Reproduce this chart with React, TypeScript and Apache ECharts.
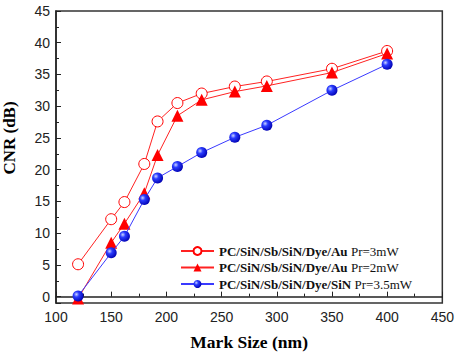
import React, { useEffect, useRef } from "react";
import * as echarts from "echarts";

const markSizes = [120, 150, 162, 180, 192, 210, 232, 262, 291, 350, 400];
const au3mW = [5.1, 12.2, 14.9, 20.9, 27.6, 30.5, 32.0, 33.1, 33.9, 35.9, 38.7];
const au2mW = [-0.3, 8.5, 11.5, 16.3, 22.3, 28.5, 31.0, 32.3, 33.2, 35.3, 38.3];
const sin35mW = [0.1, 6.9, 9.5, 15.3, 18.7, 20.5, 22.7, 25.1, 27.0, 32.5, 36.6];
const seriesNames = [
  "PC/SiN/Sb/SiN/Dye/Au|Pr=3mW",
  "PC/SiN/Sb/SiN/Dye/Au|Pr=2mW",
  "PC/SiN/Sb/SiN/Dye/SiN|Pr=3.5mW",
];
const yTitle = "CNR (dB)";
const xTitle = "Mark Size (nm)";

const pairs = (ys: number[]) => markSizes.map((x, i) => [x, ys[i]]);

export default function App() {
  const ref = useRef<HTMLDivElement>(null);
  useEffect(() => {
    if (!ref.current) return;
    const chart = echarts.init(ref.current, undefined, { renderer: "svg" });
    const axisColor = "#222";
    const tickFont = { fontFamily: "Liberation Sans", fontSize: 14, color: "#222" };
    const sphere = new echarts.graphic.RadialGradient(0.35, 0.35, 0.7, [
      { offset: 0, color: "#ccd6ff" },
      { offset: 0.35, color: "#2a3cff" },
      { offset: 1, color: "#0000b0" },
    ]);
    chart.setOption({
      animation: false,
      backgroundColor: "#fff",
      grid: {
        left: 56,
        right: 13,
        top: 11,
        bottom: 55,
        show: true,
        borderColor: "#333",
        borderWidth: 1.5,
        containLabel: false,
      },
      graphic: [
        {
          type: "text",
          x: 9,
          y: 138,
          rotation: Math.PI / 2,
          style: {
            text: yTitle,
            fontFamily: "Liberation Serif",
            fontWeight: "bold",
            fontSize: 17,
            fill: "#000",
            align: "center",
            verticalAlign: "middle",
          },
        },
      ],
      xAxis: {
        type: "value",
        min: 100,
        max: 450,
        interval: 50,
        name: xTitle,
        nameLocation: "middle",
        nameGap: 30,
        nameTextStyle: { fontFamily: "Liberation Serif", fontWeight: "bold", fontSize: 17.5, color: "#000" },
        axisLine: { lineStyle: { color: axisColor, width: 1.5 } },
        axisTick: { inside: true, length: 5, lineStyle: { color: axisColor } },
        minorTick: { show: true, splitNumber: 2, length: 3, lineStyle: { color: axisColor } },
        axisLabel: { ...tickFont, margin: 7 },
        splitLine: { show: false },
      },
      yAxis: {
        type: "value",
        min: -1,
        max: 45,
        splitNumber: 9,
        axisLine: { lineStyle: { color: axisColor, width: 1.5 } },
        axisTick: { inside: true, length: 5, lineStyle: { color: axisColor } },
        minorTick: { show: true, splitNumber: 2, length: 3, lineStyle: { color: axisColor } },
        axisLabel: {
          ...tickFont,
          margin: 6,
          formatter: (v: number) => (v < 0 ? "" : String(v)),
        },
        splitLine: { show: false },
      },
      legend: {
        orient: "vertical",
        left: 180,
        top: 244,
        padding: 0,
        itemWidth: 33,
        itemHeight: 10,
        itemGap: 2.5,
        data: seriesNames,
        formatter: (name: string) => {
          const [b, r] = name.split("|");
          return `{b|${b}} {r|${r}}`;
        },
        textStyle: {
          lineHeight: 14,
          rich: {
            b: { fontFamily: "Liberation Serif", fontWeight: "bold", fontSize: 13, color: "#111", lineHeight: 14 },
            r: { fontFamily: "Liberation Serif", fontSize: 13, color: "#111", lineHeight: 14 },
          },
        },
      },
      series: [
        {
          name: seriesNames[0],
          type: "line",
          data: pairs(au3mW),
          symbol: "circle",
          symbolSize: 11,
          itemStyle: { color: "#fff", borderColor: "#f00", borderWidth: 1 },
          lineStyle: { color: "#f22", width: 1 },
          z: 3,
        },
        {
          name: seriesNames[1],
          type: "line",
          data: pairs(au2mW),
          symbol: "triangle",
          symbolSize: 12,
          itemStyle: { color: "#f00" },
          lineStyle: { color: "#f22", width: 1 },
          z: 4,
        },
        {
          name: seriesNames[2],
          type: "line",
          data: pairs(sin35mW),
          symbol: "circle",
          symbolSize: 11,
          itemStyle: { color: sphere },
          lineStyle: { color: "#3a3aff", width: 1 },
          z: 5,
        },
      ],
    });
    return () => chart.dispose();
  }, []);
  return <div ref={ref} style={{ width: 457, height: 358, position: "absolute", left: 0, top: 0 }} />;
}
